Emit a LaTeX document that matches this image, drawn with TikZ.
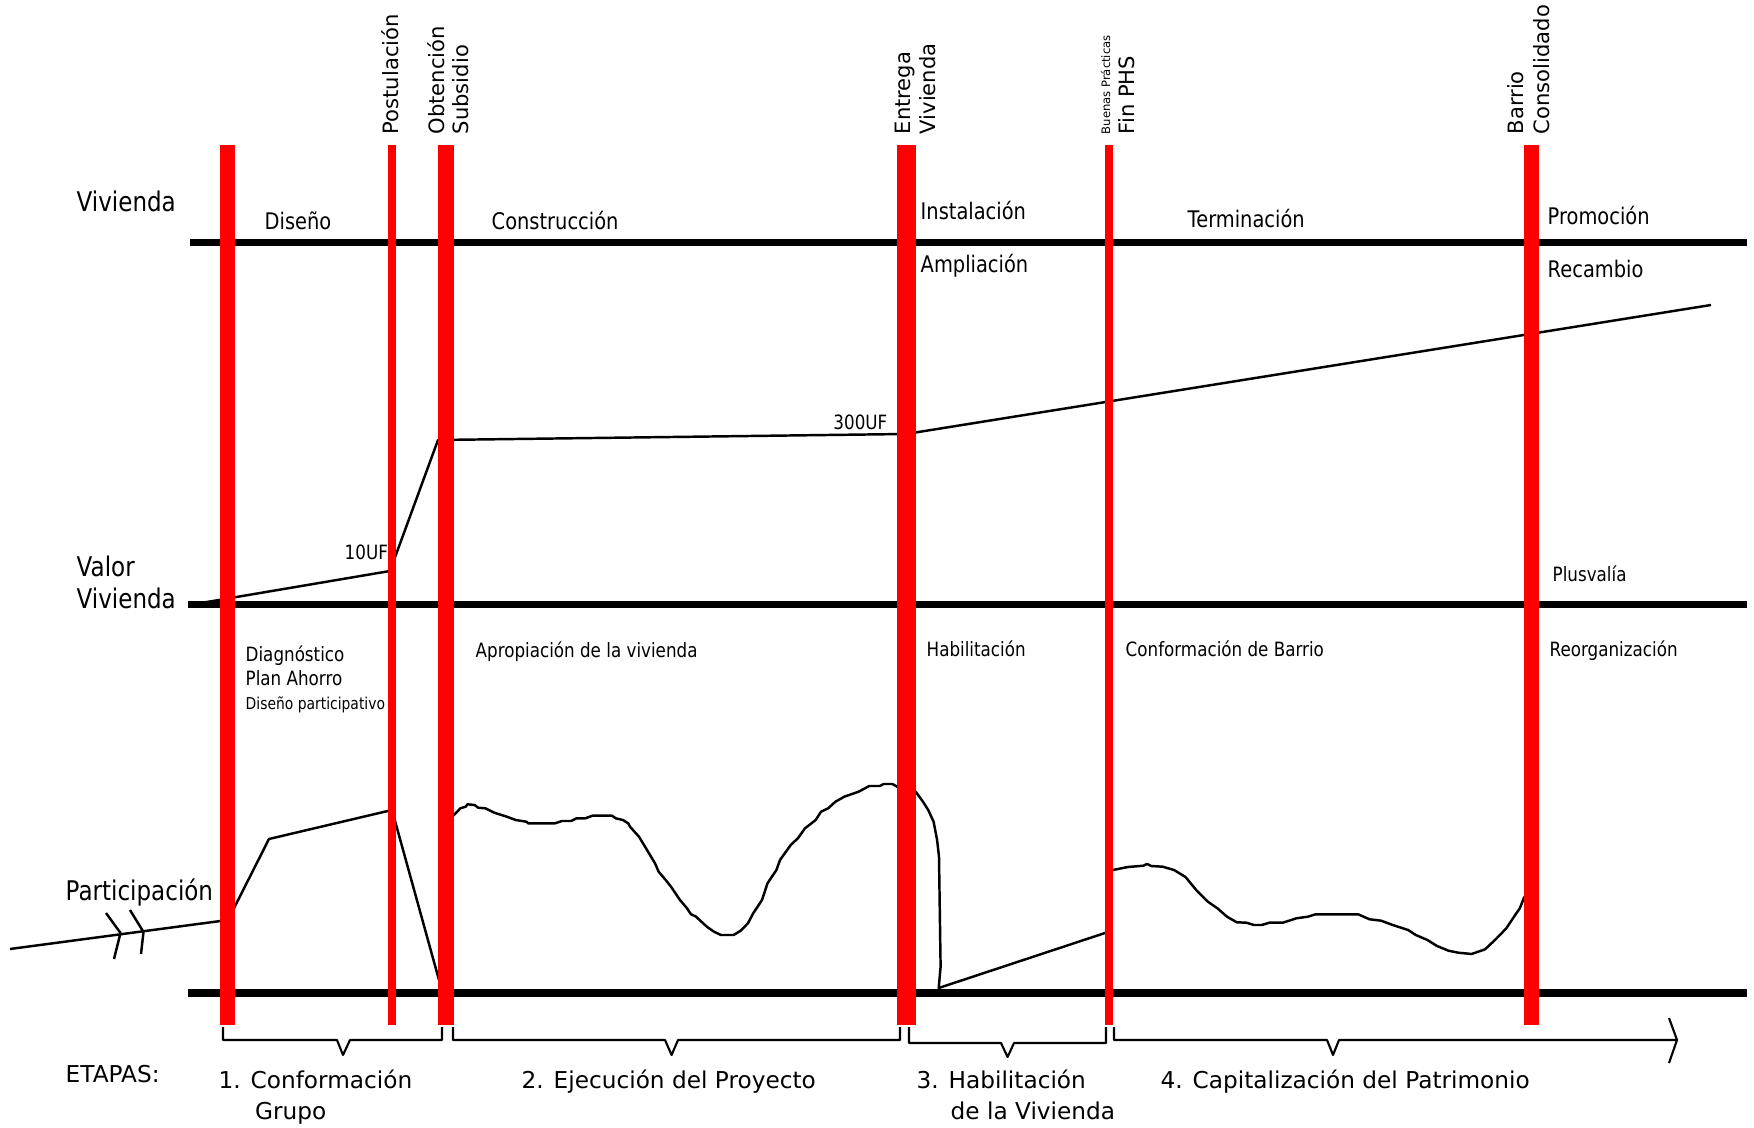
\documentclass[tikz,border=0pt]{standalone}
\usepackage{fontspec}
\setmainfont{DejaVu Sans}
\newfontfamily\narrowfont{DejaVu Sans}[FakeStretch=0.85]

\begin{document}
\begin{tikzpicture}[x=0.01cm, y=-0.01cm,
    hito/.style={rotate=90, anchor=base west, inner sep=0pt, font=\fontsize{6}{7}\selectfont},
    eje/.style={anchor=base west, inner sep=0pt, font=\narrowfont\fontsize{7.7}{9}\selectfont},
    fase/.style={anchor=base west, inner sep=0pt, font=\narrowfont\fontsize{6.5}{8}\selectfont},
    tarea/.style={anchor=base west, inner sep=0pt, font=\narrowfont\fontsize{5.6}{7}\selectfont},
    etapa/.style={anchor=base west, inner sep=0pt, font=\fontsize{6.6}{8}\selectfont},
    barra/.style={draw=red, line width=#1},
    linea/.style={line width=0.07cm},
    curva/.style={line width=0.7pt, line join=round},
    llave/.style={line width=0.6pt, line join=round}]
        \useasboundingbox (0,0) rectangle (1754,1128);

        % ejes
        \draw[linea] (190,243) -- (1747,243);
        \draw[linea] (188,605) -- (1747,605);
        \draw[linea] (188,993) -- (1747,993);

        % valor de la vivienda
        \draw[curva] (190,604) -- (207,602) -- (390,571) -- (438,440) -- (906,434) -- (1711,305);

        % participacion
        \draw[curva] (10,949) -- (228,920) -- (269,839) -- (392,810) -- (439,980);
        \draw[curva] (106,913) -- (120.5,933) -- (114,959);
        \draw[curva] (130,910) -- (143.5,932) -- (141,954);
        \draw[curva] (446,822) -- (453.9,815) -- (460.4,808.3) -- (465.7,806.7) -- (467.5,804.3)
            -- (474.6,805) -- (478.2,807.7) -- (485.4,808.3) -- (494.3,812.7) -- (506.8,816.7)
            -- (515.7,820) -- (526.4,821.7) -- (528.2,823.3) -- (555,823.3) -- (562,821)
            -- (571,821) -- (576.4,818.3) -- (585.4,818.3) -- (592.5,815.7) -- (612,815.7)
            -- (615.7,818.3) -- (622.9,820) -- (628.2,823.3) -- (630,826.7) -- (639,836.7)
            -- (646,848.3) -- (655,863.3) -- (658.6,871.7) -- (665.7,880) -- (671,886.7)
            -- (680,900) -- (687,908.3) -- (690.7,914) -- (696,916.7) -- (706.8,926.7)
            -- (714,931.7) -- (721,935) -- (733.6,935) -- (740.7,930.7) -- (747.9,923.3)
            -- (753.2,913.3) -- (762,900) -- (767.5,883.3) -- (776.4,870) -- (780,860)
            -- (790.7,845) -- (797.9,838.3) -- (805,828.3) -- (815.7,820) -- (821,811.7)
            -- (828.2,808.3) -- (835.4,801.7) -- (844.3,796.7) -- (858.6,791.7) -- (869.3,786)
            -- (880,786) -- (883.6,784) -- (892.5,784) -- (897,786.7) -- (906,788)
            -- (915.7,791.7) -- (923,801.7) -- (928.2,810) -- (933.6,821.7) -- (937.1,840)
            -- (939,856.7) -- (940.6,966.7) -- (938.7,988) -- (1105,933);
        \draw[curva] (1109,871) -- (1112.8,870) -- (1128,867) -- (1143.5,865.7) -- (1147,864)
            -- (1151,866) -- (1162.6,866.7) -- (1174,870) -- (1185.5,877) -- (1196.2,890)
            -- (1207.8,901.7) -- (1217.4,908.3) -- (1227,916.7) -- (1236.7,922.3) -- (1246.3,922.7)
            -- (1254,925) -- (1261.7,925) -- (1269.4,922.7) -- (1282.9,922.7) -- (1296.4,918.3)
            -- (1307.9,916.7) -- (1315.6,914.3) -- (1358,914.3) -- (1369.6,919.3) -- (1381.1,920.7)
            -- (1392.7,925) -- (1408.1,930) -- (1415.8,935) -- (1427.4,940) -- (1437,946)
            -- (1448.5,950.7) -- (1458.2,952.7) -- (1471.6,954) -- (1485.1,949.3) -- (1496.7,938.3)
            -- (1506.3,928.3) -- (1514,916.7) -- (1519.8,908.3) -- (1524.4,896.7);

        % hitos
        \draw[barra=0.15cm] (227.5,145) -- (227.5,1025);
        \draw[barra=0.08cm] (391.7,145) -- (391.7,1025);
        \draw[barra=0.16cm] (446,145) -- (446,1025);
        \draw[barra=0.19cm] (906.5,145) -- (906.5,1025);
        \draw[barra=0.08cm] (1109,145) -- (1109,1025);
        \draw[barra=0.15cm] (1531,145) -- (1531,1025);

        \node[hito] (postulacion) at (398,135) {Postulación};
        \node[hito] (obtencion) at (444,135) {Obtención};
        \node[hito] (subsidio) at (468,135) {Subsidio};
        \node[hito] (entrega) at (910,135) {Entrega};
        \node[hito] (entregaviv) at (935,135) {Vivienda};
        \node[hito, font=\fontsize{3.3}{4}\selectfont] (buenas) at (1110,135) {Buenas Prácticas};
        \node[hito] (finphs) at (1134,135) {Fin PHS};
        \node[hito] (barrio) at (1523,135) {Barrio};
        \node[hito] (consolidado) at (1549,135) {Consolidado};

        \node[eje] (vivienda) at (76,212) {Vivienda};
        \node[eje] (valor) at (76,577) {Valor};
        \node[eje] (valorviv) at (76,609) {Vivienda};
        \node[eje] (participacion) at (65,900) {Participación};

        \node[fase] (diseno) at (264,230) {Diseño};
        \node[fase] (construccion) at (491,230) {Construcción};
        \node[fase] (instalacion) at (920,220) {Instalación};
        \node[fase] (ampliacion) at (920,273) {Ampliación};
        \node[fase] (terminacion) at (1187,228) {Terminación};
        \node[fase] (promocion) at (1547,225) {Promoción};
        \node[fase] (recambio) at (1547,278) {Recambio};

        \node[tarea] (uf10) at (344,560) {10UF};
        \node[tarea, anchor=base east] (uf300) at (888,430) {300UF};
        \node[tarea] (plusvalia) at (1552,582) {Plusvalía};
        \node[tarea] (diagnostico) at (245,662) {Diagnóstico};
        \node[tarea] (ahorro) at (245,686) {Plan Ahorro};
        \node[tarea, font=\narrowfont\fontsize{4.65}{6}\selectfont] (disenopart) at (245,710) {Diseño participativo};
        \node[tarea] (apropiacion) at (475,658) {Apropiación de la vivienda};
        \node[tarea] (habilitacion) at (926,657) {Habilitación};
        \node[tarea] (barriocnf) at (1125,657) {Conformación de Barrio};
        \node[tarea] (reorganizacion) at (1549,657) {Reorganización};

        % etapas
        \draw[llave] (223,1027) -- (223,1040) -- (337,1040) -- (343,1055) -- (350,1040) -- (442,1040) -- (442,1027);
        \draw[llave] (453,1027) -- (453,1040) -- (665,1040) -- (671.6,1055) -- (678,1040) -- (900,1040) -- (900,1027);
        \draw[llave] (909,1027) -- (909,1043) -- (1001,1043) -- (1007.6,1057) -- (1014,1043) -- (1106,1043) -- (1106,1027);
        \draw[llave] (1114,1027) -- (1114,1040) -- (1327,1040) -- (1333,1055) -- (1339,1040) -- (1677,1040);
        \draw[llave] (1669,1018) -- (1677,1040) -- (1669,1063);

        \node[etapa] (etapas) at (65,1083) {ETAPAS:};
        \node[etapa] (etapa1) at (218,1088) {1. Conformación};
        \node[etapa] (etapa1b) at (254.5,1119) {Grupo};
        \node[etapa] (etapa2) at (521,1088) {2. Ejecución del Proyecto};
        \node[etapa] (etapa3) at (916,1088) {3. Habilitación};
        \node[etapa] (etapa3b) at (950,1119) {de la Vivienda};
        \node[etapa] (etapa4) at (1160,1088) {4. Capitalización del Patrimonio};
    \end{tikzpicture}
\end{document}
